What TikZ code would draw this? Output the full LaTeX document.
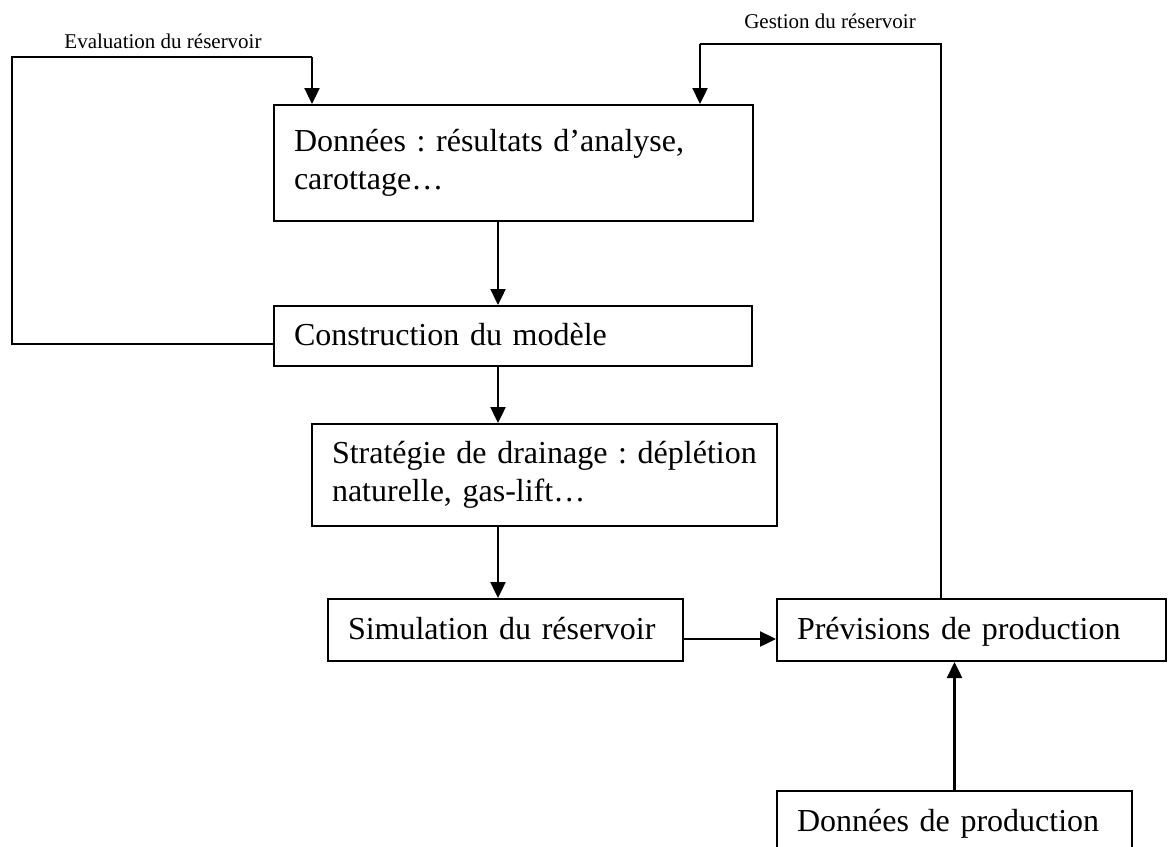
\documentclass[tikz,border=0pt]{standalone}
\usepackage{fontspec}
\setmainfont{Liberation Serif}
\usetikzlibrary{positioning, arrows.meta}
\newcommand\boxfont{\fontsize{16}{19}\selectfont\frenchspacing\hyphenpenalty=10000\relax}

\begin{document}
\begin{tikzpicture}[x=0.5pt,y=-0.5pt,
	box/.style = {draw, line width=1pt, rectangle, anchor=north west, inner xsep=10pt, inner ysep=0pt, align=left, font=\boxfont},
	oneline/.style = {text height=12pt, text depth=3pt},
	lbl/.style = {inner sep=0pt, font=\fontsize{10.5}{12}\selectfont},
	fl/.style = {line width=1.2pt, -{Triangle[length=8pt,width=7.5pt]}},
	lp/.style = {line width=0.8pt}]
		\useasboundingbox (0,0) rectangle (1171,846);
		\clip (0,0) rectangle (1171,846);
		\node[box, text width=219.5pt, minimum height=58pt] (don) at (273,104) {Données : résultats d’analyse,\\carottage…};
		\node[box, oneline, text width=219pt, minimum height=30pt] (cons) at (273,305) {Construction du modèle};
		\node[box, text width=212.5pt, minimum height=51pt] (strat) at (311,423) {Stratégie de drainage : déplétion\\naturelle, gas-lift…};
		\node[box, oneline, text width=157.5pt, minimum height=31pt] (sim) at (327,598) {Simulation du réservoir};
		\node[box, oneline, text width=174.5pt, minimum height=31pt] (prev) at (776,598) {Prévisions de production};
		\node[box, oneline, text width=157.5pt, minimum height=31pt] (dprod) at (776,790) {Données de production};
		\node[lbl] (eval) at (163,41) {Evaluation du réservoir};
		\node[lbl] (gest) at (830,21) {Gestion du réservoir};
		\coordinate (sp) at (498,0);
		\coordinate (hy) at (0,639);
		\coordinate (ly) at (12,344);
		\coordinate (ev) at (12,57);
		\coordinate (evin) at (312,57);
		\coordinate (gs) at (941,44);
		\coordinate (gsin) at (700,44);
		\draw[fl] (don.south -| sp) to (cons.north -| sp);
		\draw[fl] (cons.south -| sp) to (strat.north -| sp);
		\draw[fl] (strat.south -| sp) to (sim.north -| sp);
		\draw[fl] (sim.east |- hy) to (prev.west |- hy);
		\draw[fl] (dprod.north) to (dprod.north |- prev.south);
		\draw[lp] (cons.west |- ly) -- (ly) -- (ev) -- (evin);
		\draw[fl] (evin) to (don.north -| evin);
		\draw[lp] (prev.north -| gs) -- (gs) -- (gsin);
		\draw[fl] (gsin) to (don.north -| gsin);
	\end{tikzpicture}
\end{document}
